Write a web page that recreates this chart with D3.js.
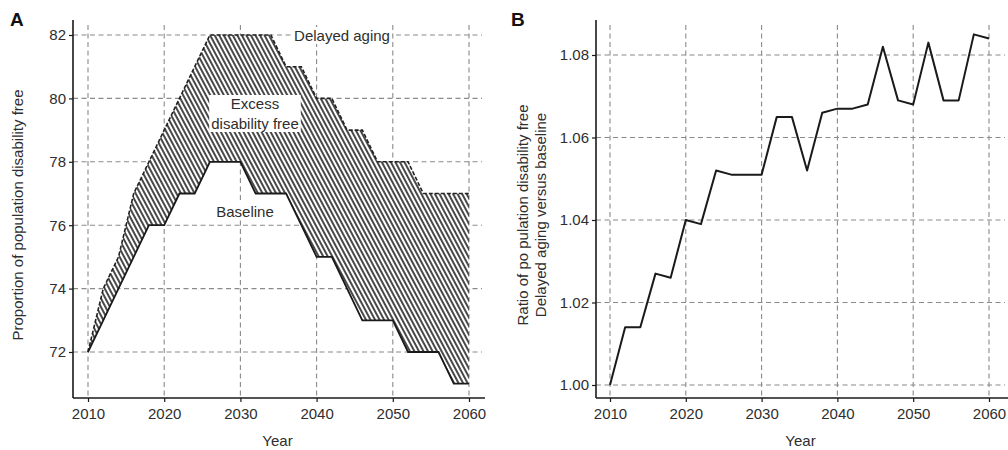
<!DOCTYPE html>
<html>
<head>
<meta charset="utf-8">
<script src="https://cdn.jsdelivr.net/npm/d3@7"></script>
<style>
  html, body { margin: 0; padding: 0; background: #fff; }
  svg { display: block; font-family: "Liberation Sans", Arial, sans-serif; }
</style>
</head>
<body>
<svg id="chart" width="1008" height="450"></svg>
<script>
// Projection years (two-year steps)
const years = [2010, 2012, 2014, 2016, 2018, 2020, 2022, 2024, 2026, 2028, 2030, 2032, 2034,
               2036, 2038, 2040, 2042, 2044, 2046, 2048, 2050, 2052, 2054, 2056, 2058, 2060];
// Proportion of population disability free (%), baseline scenario
const baseline = [72, 73, 74, 75, 76, 76, 77, 77, 78, 78, 78, 77, 77,
                  77, 76, 75, 75, 74, 73, 73, 73, 72, 72, 72, 71, 71];
// Proportion of population disability free (%), delayed aging scenario
const delayed = [72, 74, 75, 77, 78, 79, 80, 81, 82, 82, 82, 82, 82,
                 81, 81, 80, 80, 79, 79, 78, 78, 78, 77, 77, 77, 77];
// Ratio delayed aging / baseline
const ratio = [1.000, 1.014, 1.014, 1.027, 1.026, 1.040, 1.039, 1.052, 1.051, 1.051, 1.051, 1.065, 1.065,
               1.052, 1.066, 1.067, 1.067, 1.068, 1.082, 1.069, 1.068, 1.083, 1.069, 1.069, 1.085, 1.084];

const xTicks = [2010, 2020, 2030, 2040, 2050, 2060];
const yTicksA = [72, 74, 76, 78, 80, 82];
const yTicksB = [1.00, 1.02, 1.04, 1.06, 1.08];

const svg = d3.select("#chart");
const textColor = "#2e2e2e";
const gridColor = "#8a8a8a";
const fs = 15;

// Diagonal hatch for the excess disability-free band
const defs = svg.append("defs");
defs.append("pattern")
  .attr("id", "hatch")
  .attr("patternUnits", "userSpaceOnUse")
  .attr("width", 4).attr("height", 4)
  .attr("patternTransform", "rotate(-28)")
  .call(p => {
    p.append("rect").attr("width", 4).attr("height", 4).attr("fill", "#fff");
    p.append("line").attr("x1", 1).attr("y1", 0).attr("x2", 1).attr("y2", 4)
      .attr("stroke", "#1a1a1a").attr("stroke-width", 1.6);
  });

function drawFrame(g, x, y, cfg) {
  // grid
  g.append("g").selectAll("line").data(cfg.yTicks).join("line")
    .attr("x1", cfg.left).attr("x2", cfg.right)
    .attr("y1", d => y(d)).attr("y2", d => y(d))
    .attr("stroke", gridColor).attr("stroke-width", 1.1).attr("stroke-dasharray", "5,3.5");
  g.append("g").selectAll("line").data(xTicks).join("line")
    .attr("x1", d => x(d)).attr("x2", d => x(d))
    .attr("y1", cfg.top + 5).attr("y2", cfg.bottom)
    .attr("stroke", gridColor).attr("stroke-width", 1.1).attr("stroke-dasharray", "5,3.5");

  // axes
  const xAxis = d3.axisBottom(x).tickValues(xTicks).tickFormat(d3.format("d"))
    .tickSize(4).tickPadding(6);
  const gx = g.append("g").attr("transform", `translate(0,${cfg.bottom})`).call(xAxis);
  gx.select(".domain").remove();
  g.append("line").attr("x1", cfg.left).attr("x2", cfg.right + 3)
    .attr("y1", cfg.bottom).attr("y2", cfg.bottom)
    .attr("stroke", "#1a1a1a").attr("stroke-width", 1.6);

  const yAxis = d3.axisLeft(y).tickValues(cfg.yTicks).tickFormat(cfg.yFormat)
    .tickSize(4).tickPadding(3);
  const gy = g.append("g").attr("transform", `translate(${cfg.left},0)`).call(yAxis);
  gy.select(".domain").remove();
  g.append("line").attr("x1", cfg.left).attr("x2", cfg.left)
    .attr("y1", cfg.top).attr("y2", cfg.bottom)
    .attr("stroke", "#1a1a1a").attr("stroke-width", 1.6);

  [gx, gy].forEach(a => {
    a.selectAll(".tick line").attr("stroke", "#1a1a1a").attr("stroke-width", 1.2);
    a.selectAll(".tick text").attr("fill", textColor).attr("font-size", fs)
      .attr("font-family", "'Liberation Sans', Arial, sans-serif");
  });

  // axis title
  g.append("text").attr("x", (cfg.left + cfg.right) / 2).attr("y", cfg.bottom + 48)
    .attr("text-anchor", "middle").attr("font-size", fs).attr("fill", textColor).text("Year");

  // panel letter
  g.append("text").attr("x", cfg.letterX).attr("y", 26)
    .attr("font-size", 19).attr("font-weight", "bold").attr("fill", "#111").text(cfg.letter);
}

// ---------- Panel A ----------
const gA = svg.append("g");
const xA = d3.scaleLinear().domain([2010, 2060]).range([88, 469]);
const yA = d3.scaleLinear().domain([72, 82]).range([352, 35]);
drawFrame(gA, xA, yA, { left: 73, right: 482, top: 20, bottom: 398,
  yTicks: yTicksA, yFormat: d3.format("d"), letter: "A", letterX: 10 });

const band = years.map((yr, i) => ({ yr, lo: baseline[i], hi: delayed[i] }));
gA.append("path").datum(band)
  .attr("d", d3.area().x(d => xA(d.yr)).y0(d => yA(d.lo)).y1(d => yA(d.hi)))
  .attr("fill", "url(#hatch)");
gA.append("path").datum(band)
  .attr("d", d3.line().x(d => xA(d.yr)).y(d => yA(d.hi)))
  .attr("fill", "none").attr("stroke", "#222").attr("stroke-width", 1.6)
  .attr("stroke-dasharray", "4,2");
gA.append("path").datum(band)
  .attr("d", d3.line().x(d => xA(d.yr)).y(d => yA(d.lo)))
  .attr("fill", "none").attr("stroke", "#1a1a1a").attr("stroke-width", 1.8);

// in-plot labels on white boxes
function boxLabel(g, lines, cx, y0, lh) {
  const grp = g.append("g");
  lines.forEach((s, i) => grp.append("text")
    .attr("x", cx).attr("y", y0 + i * lh).attr("text-anchor", "middle")
    .attr("font-size", fs).attr("fill", textColor).text(s));
  const bb = grp.node().getBBox();
  grp.insert("rect", "text").attr("x", bb.x - 2).attr("y", bb.y).attr("width", bb.width + 4)
    .attr("height", bb.height).attr("fill", "#fff");
}
boxLabel(gA, ["Delayed aging"], 342, 41, 0);
boxLabel(gA, ["Excess", "disability free"], 255, 109, 20);
boxLabel(gA, ["Baseline"], 245, 217, 0);

gA.append("text")
  .attr("transform", "translate(23,215) rotate(-90)")
  .attr("text-anchor", "middle").attr("font-size", fs).attr("fill", textColor)
  .text("Proportion of population disability free");

// ---------- Panel B ----------
const gB = svg.append("g");
const xB = d3.scaleLinear().domain([2010, 2060]).range([610, 989]);
const yB = d3.scaleLinear().domain([1.00, 1.08]).range([385, 55]);
drawFrame(gB, xB, yB, { left: 596, right: 1005, top: 20, bottom: 398,
  yTicks: yTicksB, yFormat: d3.format(".2f"), letter: "B", letterX: 511 });

gB.append("path").datum(years.map((yr, i) => [yr, ratio[i]]))
  .attr("d", d3.line().x(d => xB(d[0])).y(d => yB(d[1])))
  .attr("fill", "none").attr("stroke", "#1a1a1a").attr("stroke-width", 2)
  .attr("stroke-linejoin", "round");

const yTitleB = gB.append("text")
  .attr("transform", "translate(528,215) rotate(-90)")
  .attr("text-anchor", "middle").attr("font-size", fs).attr("fill", textColor);
yTitleB.append("tspan").attr("x", 0).attr("dy", 0).text("Ratio of po pulation disability free");
yTitleB.append("tspan").attr("x", 0).attr("dy", 18).text("Delayed aging versus baseline");
</script>
</body>
</html>
